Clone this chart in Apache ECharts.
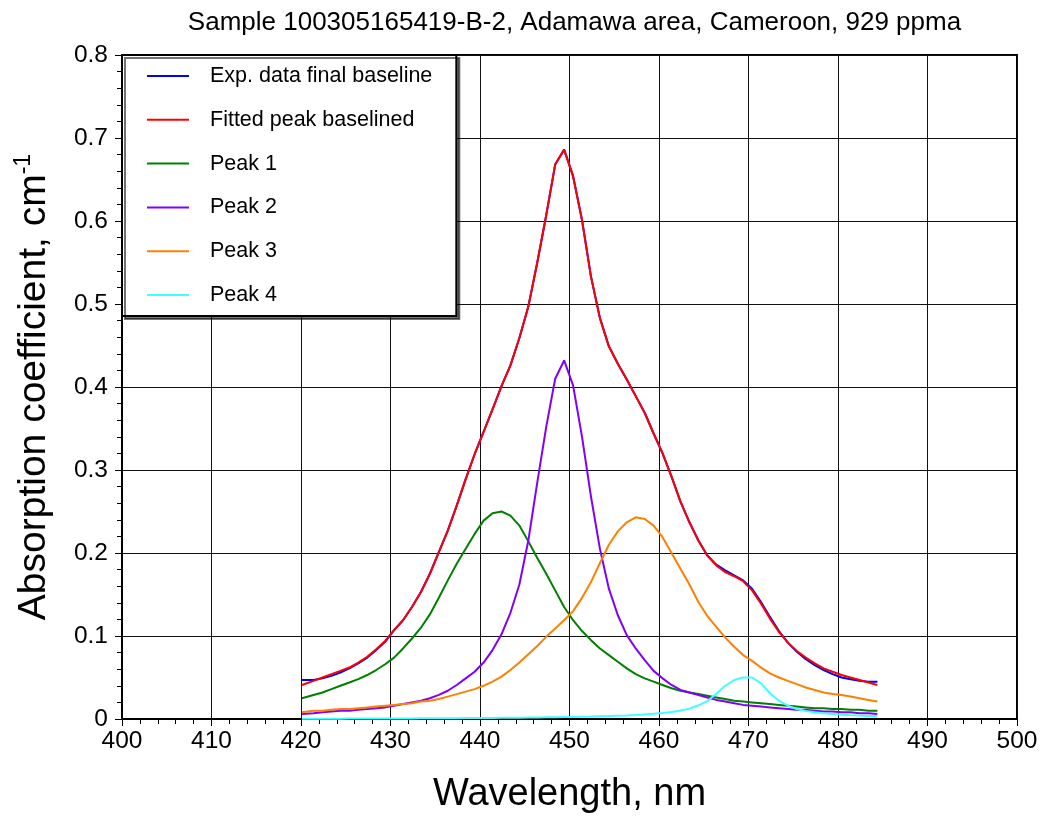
<!DOCTYPE html>
<html><head><meta charset="utf-8">
<script src="https://cdn.jsdelivr.net/npm/echarts/dist/echarts.min.js"></script>
<style>html,body{margin:0;padding:0;background:#fff}#chart{width:1042px;height:819px}</style>
</head><body><div id="chart"></div>
<script>
const titleText = 'Sample 100305165419-B-2, Adamawa area, Cameroon, 929 ppma';
const seriesNames = ['Exp. data final baseline', 'Fitted peak baselined', 'Peak 1', 'Peak 2', 'Peak 3', 'Peak 4'];
const seriesColors = ['#0000ff', '#ff0000', '#008000', '#8000ff', '#ff8000', '#40ffff'];

const wavelength = [
  420.1, 421.4, 422.4, 423.4, 424.4, 425.4, 426.4, 427.4, 428.4, 429.4,
  430.4, 431.4, 432.4, 433.4, 434.4, 435.4, 436.4, 437.4, 438.4, 439.4,
  440.4, 441.4, 442.4, 443.4, 444.4, 445.4, 446.4, 447.4, 448.4, 449.4,
  450.4, 451.4, 452.4, 453.4, 454.4, 455.4, 456.4, 457.4, 458.4, 459.4,
  460.4, 461.4, 462.4, 463.4, 464.4, 465.4, 466.4, 467.4, 468.4, 469.4,
  470.4, 471.4, 472.4, 473.4, 474.4, 475.4, 476.4, 477.4, 478.4, 479.4,
  480.4, 481.4, 482.4, 483.4, 484.4
];
const expData = [
  0.047, 0.047, 0.049, 0.052, 0.056, 0.061, 0.067, 0.074, 0.083, 0.093,
  0.107, 0.119, 0.135, 0.153, 0.175, 0.201, 0.227, 0.257, 0.289, 0.319,
  0.346, 0.373, 0.401, 0.426, 0.459, 0.497, 0.550, 0.607, 0.668, 0.686,
  0.654, 0.601, 0.533, 0.483, 0.449, 0.428, 0.409, 0.389, 0.369, 0.344,
  0.320, 0.292, 0.262, 0.237, 0.215, 0.197, 0.186, 0.179, 0.173, 0.167,
  0.157, 0.141, 0.123, 0.106, 0.092, 0.081, 0.072, 0.065, 0.059, 0.054,
  0.050, 0.048, 0.046, 0.045, 0.045
];
const fittedPeak = [
  0.041, 0.046, 0.050, 0.054, 0.058, 0.062, 0.068, 0.075, 0.084, 0.094,
  0.107, 0.119, 0.135, 0.153, 0.175, 0.201, 0.227, 0.257, 0.289, 0.319,
  0.346, 0.373, 0.401, 0.426, 0.459, 0.497, 0.550, 0.607, 0.668, 0.686,
  0.654, 0.601, 0.533, 0.483, 0.449, 0.428, 0.409, 0.389, 0.369, 0.344,
  0.320, 0.292, 0.262, 0.237, 0.215, 0.197, 0.185, 0.177, 0.172, 0.166,
  0.155, 0.139, 0.121, 0.105, 0.092, 0.082, 0.074, 0.067, 0.061, 0.057,
  0.053, 0.050, 0.047, 0.044, 0.041
];
const peak1 = [
  0.025, 0.029, 0.032, 0.036, 0.040, 0.044, 0.048, 0.053, 0.059, 0.066,
  0.074, 0.085, 0.097, 0.110, 0.126, 0.146, 0.167, 0.187, 0.205, 0.223,
  0.239, 0.248, 0.250, 0.245, 0.233, 0.214, 0.194, 0.175, 0.155, 0.135,
  0.119, 0.106, 0.095, 0.085, 0.077, 0.069, 0.061, 0.054, 0.049, 0.045,
  0.041, 0.037, 0.034, 0.032, 0.030, 0.028, 0.026, 0.024, 0.022, 0.021,
  0.020, 0.019, 0.018, 0.017, 0.016, 0.015, 0.014, 0.013, 0.013, 0.012,
  0.012, 0.011, 0.011, 0.010, 0.010
];
const peak2 = [
  0.006, 0.007, 0.008, 0.009, 0.010, 0.010, 0.011, 0.012, 0.013, 0.014,
  0.016, 0.018, 0.020, 0.022, 0.025, 0.029, 0.034, 0.041, 0.049, 0.057,
  0.068, 0.083, 0.102, 0.128, 0.162, 0.215, 0.285, 0.352, 0.410, 0.432,
  0.402, 0.340, 0.268, 0.205, 0.157, 0.125, 0.101, 0.085, 0.071, 0.058,
  0.049, 0.041, 0.035, 0.032, 0.029, 0.026, 0.023, 0.021, 0.019, 0.017,
  0.016, 0.015, 0.014, 0.013, 0.012, 0.011, 0.011, 0.010, 0.009, 0.009,
  0.008, 0.008, 0.007, 0.007, 0.006
];
const peak3 = [
  0.008, 0.010, 0.010, 0.011, 0.012, 0.012, 0.013, 0.014, 0.015, 0.016,
  0.017, 0.018, 0.019, 0.021, 0.022, 0.024, 0.027, 0.030, 0.033, 0.036,
  0.040, 0.045, 0.051, 0.059, 0.068, 0.078, 0.088, 0.099, 0.109, 0.119,
  0.130, 0.146, 0.165, 0.188, 0.210, 0.226, 0.237, 0.243, 0.241, 0.233,
  0.219, 0.200, 0.181, 0.162, 0.141, 0.124, 0.111, 0.098, 0.087, 0.077,
  0.070, 0.062, 0.055, 0.050, 0.046, 0.042, 0.038, 0.035, 0.032, 0.030,
  0.029, 0.027, 0.025, 0.023, 0.021
];
const peak4 = [
  0.0003, 0.0003, 0.0004, 0.0004, 0.0004, 0.0005, 0.0005, 0.0005, 0.0006, 0.0006,
  0.0006, 0.0007, 0.0007, 0.0008, 0.0008, 0.0009, 0.0009, 0.0010, 0.0011, 0.0011,
  0.0012, 0.0013, 0.0014, 0.0015, 0.0016, 0.0017, 0.0018, 0.0020, 0.0021, 0.0023,
  0.0025, 0.0027, 0.0029, 0.0032, 0.0035, 0.0039, 0.0043, 0.0048, 0.0055, 0.0062,
  0.0072, 0.0085, 0.0102, 0.0125, 0.0165, 0.0215, 0.0305, 0.0400, 0.0470, 0.0500,
  0.0500, 0.0430, 0.0310, 0.0220, 0.0160, 0.0120, 0.0097, 0.0080, 0.0068, 0.0059,
  0.0052, 0.0046, 0.0041, 0.0037, 0.0033
];
const xTicks = { min: 400, max: 500, interval: 10 };
const yTicks = { min: 0, max: 0.8, interval: 0.1 };

const FONT = '"Liberation Sans", Arial, Helvetica, sans-serif';
const allValues = [expData, fittedPeak, peak1, peak2, peak3, peak4];

const chart = echarts.init(document.getElementById('chart'), null, { renderer: 'canvas' });
const series = seriesNames.map((name, k) => ({
  name: name,
  type: 'line',
  symbol: 'none',
  showSymbol: false,
  smooth: false,
  data: wavelength.map((w, i) => [w, allValues[k][i]]),
  lineStyle: { color: seriesColors[k], width: 2 },
  itemStyle: { color: seriesColors[k] },
  z: 3 + k
}));

chart.setOption({
  animation: false,
  backgroundColor: '#fff',
  textStyle: { fontFamily: FONT },
  title: {
    text: titleText,
    left: 569.5,
    top: 5,
    textAlign: 'center',
    textStyle: { fontFamily: FONT, fontSize: 26, fontWeight: 'normal', color: '#000' }
  },
  grid: {
    left: 122, right: 25, top: 55, bottom: 100,
    outerBoundsMode: 'none',
    containLabel: false,
    show: true, borderColor: '#000', borderWidth: 2, backgroundColor: 'transparent'
  },
  legend: {
    orient: 'vertical',
    left: 122, top: 55,
    data: seriesNames,
    itemWidth: 42, itemHeight: 20, itemGap: 21.8,
    padding: [10, 24, 10, 24],
    backgroundColor: '#fff',
    borderColor: '#000', borderWidth: 2, borderRadius: 0,
    shadowColor: 'rgba(0,0,0,0.55)', shadowBlur: 0, shadowOffsetX: 3, shadowOffsetY: 3,
    itemStyle: { opacity: 0, borderWidth: 0 },
    lineStyle: { width: 2 },
    textStyle: { fontFamily: FONT, fontSize: 21.5, color: '#000', padding: [0, 0, 0, 16] },
    selectedMode: false
  },
  xAxis: {
    type: 'value',
    min: xTicks.min, max: xTicks.max, interval: xTicks.interval,
    name: 'Wavelength, nm',
    nameLocation: 'middle', nameGap: 57,
    nameTextStyle: { fontFamily: FONT, fontSize: 38, color: '#000' },
    axisLine: { show: true, onZero: false, lineStyle: { color: '#000', width: 2 } },
    axisTick: { show: true, inside: false, length: 7, lineStyle: { color: '#000', width: 1 } },
    minorTick: { show: true, splitNumber: 5, length: 5, lineStyle: { color: '#000', width: 1 } },
    axisLabel: { fontFamily: FONT, fontSize: 24.5, color: '#000', margin: 10 },
    splitLine: { show: true, lineStyle: { color: '#111', width: 1 } }
  },
  yAxis: {
    type: 'value',
    min: yTicks.min, max: yTicks.max, interval: yTicks.interval,
    name: 'Absorption coefficient, cm{sup|-1}',
    nameLocation: 'middle', nameGap: 66, nameRotate: 90,
    nameTextStyle: {
      fontFamily: FONT, fontSize: 39, color: '#000', lineHeight: 44,
      rich: { sup: { fontFamily: FONT, fontSize: 23, color: '#000', verticalAlign: 'top', lineHeight: 23 } }
    },
    axisLine: { show: true, onZero: false, lineStyle: { color: '#000', width: 2 } },
    axisTick: { show: true, inside: false, length: 7, lineStyle: { color: '#000', width: 1 } },
    minorTick: { show: true, splitNumber: 5, length: 5, lineStyle: { color: '#000', width: 1 } },
    axisLabel: {
      fontFamily: FONT, fontSize: 24.5, color: '#000', margin: 14,
      formatter: v => (Math.abs(v) < 1e-9 ? '0' : v.toFixed(1))
    },
    splitLine: { show: true, lineStyle: { color: '#111', width: 1 } }
  },
  series: series
});
</script>
</body></html>
